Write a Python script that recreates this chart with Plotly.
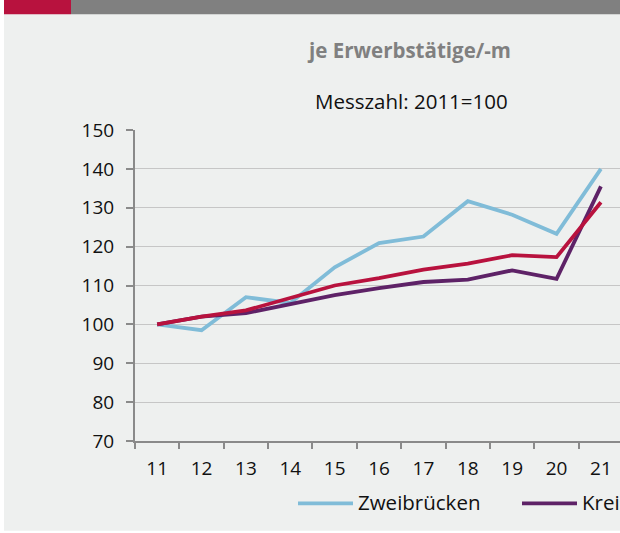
import plotly.graph_objects as go

years = ["11", "12", "13", "14", "15", "16", "17", "18", "19", "20", "21"]

zweibruecken = [100, 98.5, 107.0, 105.5, 114.7, 120.9, 122.6, 131.7, 128.2, 123.3, 140.0]
kreisfreie = [100, 102.0, 102.9, 105.1, 107.5, 109.3, 110.9, 111.5, 113.9, 111.7, 135.5]
rlp = [100, 102.0, 103.6, 106.7, 110.0, 111.9, 114.1, 115.6, 117.8, 117.3, 131.4]

series_names = ["Zweibrücken", "Kreisfreie Städte", "Rheinland-Pfalz"]
series_colors = ["#80bcd8", "#5e2267", "#b8123e"]

FONT = "Open Sans"
BG = "#eef0ef"

# plot area in pixels: x 135..620, y 130..441.5
W, H = 620, 533
L, R, T, B = 135, 0, 130, 91.5
pw, ph = W - L - R, H - T - B


def px_x(p):
    return (p - L) / pw


def px_y(p):
    return (H - B - p) / ph


fig = go.Figure()
for name, vals, col in zip(series_names, [zweibruecken, kreisfreie, rlp], series_colors):
    fig.add_trace(go.Scatter(x=years, y=vals, name=name, mode="lines",
                             line=dict(color=col, width=3.8), showlegend=False))

shapes = [
    # white strips at left/bottom, coloured bar on top
    dict(type="rect", xref="paper", yref="paper", x0=px_x(-5), x1=px_x(4), y0=px_y(540), y1=px_y(-5),
         fillcolor="white", line_width=0, layer="below"),
    dict(type="rect", xref="paper", yref="paper", x0=px_x(-5), x1=px_x(630), y0=px_y(540), y1=px_y(531.5),
         fillcolor="white", line_width=0, layer="below"),
    dict(type="rect", xref="paper", yref="paper", x0=px_x(4), x1=px_x(71), y0=px_y(14), y1=px_y(-5),
         fillcolor="#b8123e", line_width=0, layer="below"),
    dict(type="rect", xref="paper", yref="paper", x0=px_x(71), x1=px_x(630), y0=px_y(14), y1=px_y(-5),
         fillcolor="#808080", line_width=0, layer="below"),
]

# legend keys (drawn by hand so the key lines are as long as in the original)
legend_x = [298, 522]
for lx, name, col in zip(legend_x, series_names[:2], series_colors[:2]):
    shapes.append(dict(type="line", xref="paper", yref="paper", x0=px_x(lx), x1=px_x(lx + 55),
                       y0=px_y(504), y1=px_y(504), line=dict(color=col, width=3.8)))

annotations = [
    dict(text="<b>je Erwerbstätige/-m</b>", x=px_x(409), y=px_y(50), xref="paper", yref="paper",
         showarrow=False, font=dict(family=FONT, size=20.5, color="#808080"), xanchor="center", yanchor="middle"),
    dict(text="Messzahl: 2011=100", x=px_x(411), y=px_y(101), xref="paper", yref="paper",
         showarrow=False, font=dict(family=FONT, size=20.5, color="#111111"), xanchor="center", yanchor="middle"),
]
for lx, name in zip(legend_x, series_names[:2]):
    annotations.append(dict(text=name, x=px_x(lx + 58), y=px_y(503), xref="paper", yref="paper",
                            showarrow=False, xanchor="left", yanchor="middle",
                            font=dict(family=FONT, size=20.5, color="#111111")))

fig.update_layout(
    width=W, height=H, autosize=False,
    margin=dict(l=L, r=R, t=T, b=B, pad=0),
    paper_bgcolor=BG, plot_bgcolor=BG,
    font=dict(family=FONT, size=19, color="#111111"),
    shapes=shapes, annotations=annotations,
    showlegend=False,
)

fig.update_xaxes(type="category", range=[-0.5, 10.43], showgrid=False,
                 showline=True, linecolor="#8a8a8a", linewidth=2,
                 ticks="outside", tickson="boundaries", ticklen=6, tickcolor="#8a8a8a", tickwidth=2,
                 ticklabelstandoff=9, zeroline=False)
fig.update_yaxes(range=[70, 150], dtick=10, showgrid=True, gridcolor="#c6c6c6", gridwidth=1.3,
                 showline=True, linecolor="#8a8a8a", linewidth=2,
                 ticks="outside", ticklen=7, tickcolor="#8a8a8a", tickwidth=1.5,
                 ticklabelstandoff=8, zeroline=False)

fig.write_html("out.html", config={"displayModeBar": False},
               post_script="document.body.style.margin='0';document.body.style.overflow='hidden';")
